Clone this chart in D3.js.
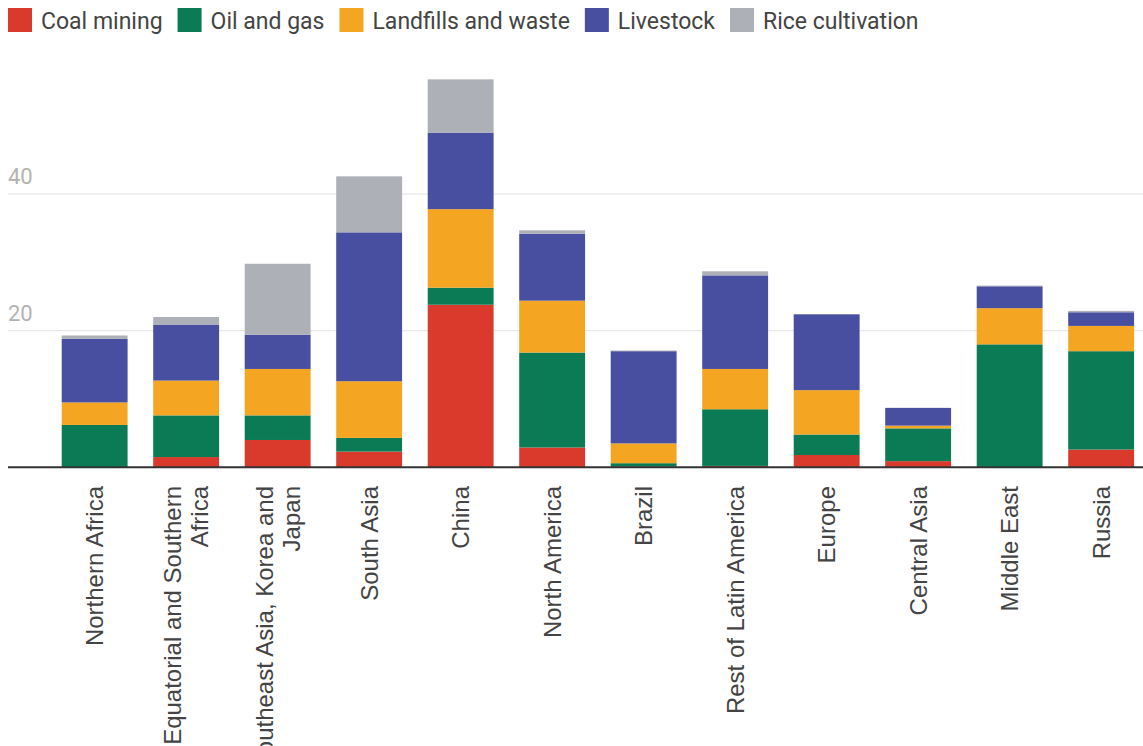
<!DOCTYPE html>
<html>
<head>
<meta charset="utf-8">
<script src="https://cdn.jsdelivr.net/npm/d3@7"></script>
<style>
  body { margin: 0; background: #fff; }
  text { font-family: Roboto, "Noto Sans", Arial, sans-serif; }
  .cat { font-family: "Liberation Sans", Arial, sans-serif; }
</style>
</head>
<body>
<svg id="chart" width="1143" height="746"></svg>
<script>
// Methane emissions by region and source
const regions = ["Northern Africa", "Equatorial and Southern Africa", "Southeast Asia, Korea and Japan",
  "South Asia", "China", "North America", "Brazil", "Rest of Latin America", "Europe",
  "Central Asia", "Middle East", "Russia"]
const sources = ["Coal mining", "Oil and gas", "Landfills and waste", "Livestock", "Rice cultivation"]
const colors = ["#d93a2b", "#0b7b55", "#f4a623", "#484ea0", "#adb0b7"]

const coal      = [0,   1.5, 4.0,  2.3, 23.8, 2.9,  0.1,  0.2,  1.8,  0.9, 0,    2.6]
const oilGas    = [6.2, 6.1, 3.6,  2.0, 2.5,  13.9, 0.5,  8.3,  3.0,  4.8, 18.0, 14.4]
const landfills = [3.3, 5.1, 6.8,  8.3, 11.5, 7.6,  2.9,  5.9,  6.5,  0.4, 5.3,  3.7]
const livestock = [9.3, 8.2, 5.0, 21.8, 11.2, 9.8, 13.5, 13.7, 11.1,  2.6, 3.2,  2.0]
const rice      = [0.5, 1.1, 10.4, 8.2, 7.8,  0.5,  0.1,  0.6,  0,    0,   0.1,  0.2]

const yTicks = [20, 40]

// build rows for d3.stack
const columns = [coal, oilGas, landfills, livestock, rice]
const rows = regions.map((r, i) => {
  let row = { region: r }
  sources.forEach((s, j) => { row[s] = columns[j][i] })
  return row
})

const svg = d3.select("#chart")
const width = +svg.attr("width")

const x = d3.scaleBand()
    .domain(regions)
    .range([48.9, 48.9 + 91.5 * 12])
    .paddingInner(0.28)
    .paddingOuter(0.14)

const y = d3.scaleLinear()
    .domain([0, 60])
    .range([467.3, 57.5])

const color = d3.scaleOrdinal().domain(sources).range(colors)

// gridlines
svg.append("g")
  .selectAll("line")
  .data(yTicks)
  .enter().append("line")
    .attr("x1", 8)
    .attr("x2", width)
    .attr("y1", d => y(d))
    .attr("y2", d => y(d))
    .attr("stroke", "#e2e2e2")
    .attr("stroke-width", 1)

svg.append("g")
  .selectAll("text")
  .data(yTicks)
  .enter().append("text")
    .attr("x", 8)
    .attr("y", d => y(d) - 10)
    .attr("fill", "#b3b3b3")
    .style("font-size", "22px")
    .text(d => d)

// stacked bars
const stacked = d3.stack().keys(sources)(rows)

svg.append("g")
  .selectAll("g")
  .data(stacked)
  .enter().append("g")
    .attr("fill", d => color(d.key))
  .selectAll("rect")
  .data(d => d)
  .enter().append("rect")
    .attr("x", d => x(d.data.region))
    .attr("width", x.bandwidth())
    .attr("y", d => y(d[1]))
    .attr("height", d => y(d[0]) - y(d[1]))

// baseline
svg.append("line")
    .attr("x1", 8)
    .attr("x2", width)
    .attr("y1", y(0))
    .attr("y2", y(0))
    .attr("stroke", "#333")
    .attr("stroke-width", 2)

// rotated category labels, wrapped when too long
const maxLabel = 300
const lineGap = 27
const labels = svg.append("g")
  .selectAll("g")
  .data(regions)
  .enter().append("g")
    .attr("transform", d => `translate(${x(d) + x.bandwidth() / 2},486) rotate(-90)`)

labels.each(function(d) {
  const g = d3.select(this)
  const probe = g.append("text").attr("class", "cat").style("font-size", "24px")
  const words = d.split(" ")
  let lines = [], cur = []
  words.forEach(w => {
    const test = cur.concat([w]).join(" ")
    probe.text(test)
    if (cur.length && probe.node().getComputedTextLength() > maxLabel) {
      lines.push(cur.join(" "))
      cur = [w]
    } else {
      cur.push(w)
    }
  })
  lines.push(cur.join(" "))
  probe.remove()

  lines.forEach((ln, i) => {
    g.append("text")
      .attr("class", "cat")
      .attr("x", 0)
      .attr("y", (i - (lines.length - 1) / 2) * lineGap)
      .attr("dy", "0.35em")
      .attr("text-anchor", "end")
      .attr("fill", "#444")
      .style("font-size", "24px")
      .text(ln)
  })
})

// legend
const legend = svg.append("g")
let lx = 8
sources.forEach((s, i) => {
  legend.append("rect")
      .attr("x", lx)
      .attr("y", 8)
      .attr("width", 24)
      .attr("height", 24)
      .attr("fill", colors[i])
  const t = legend.append("text")
      .attr("x", lx + 33)
      .attr("y", 29)
      .attr("fill", "#444")
      .style("font-size", "23px")
      .text(s)
  lx += 33 + t.node().getComputedTextLength() + 15
})
</script>
</body>
</html>
